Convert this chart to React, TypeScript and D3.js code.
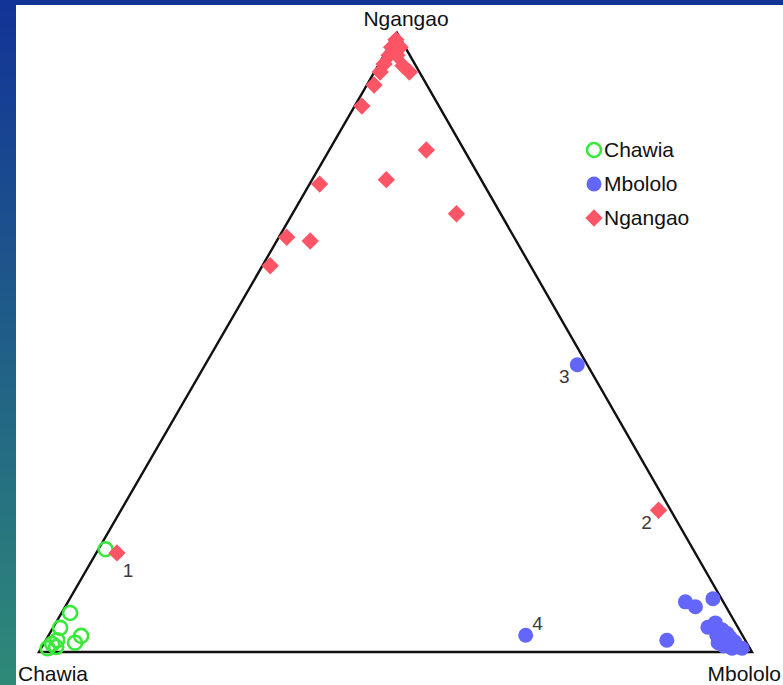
import React, { useEffect, useRef } from "react";
import * as d3 from "d3";

// ternary compositions [Chawia, Mbololo, Ngangao]
const vertexLabels = ["Chawia", "Mbololo", "Ngangao"];
const seriesNames = ["Chawia", "Mbololo", "Ngangao"];

const chawiaPts: number[][] = [
  [0.824, 0.01, 0.166],
  [0.925, 0.012, 0.063],
  [0.951, 0.01, 0.039],
  [0.928, 0.046, 0.026],
  [0.942, 0.043, 0.015],
  [0.965, 0.016, 0.019],
  [0.975, 0.012, 0.013],
  [0.985, 0.009, 0.006],
  [0.972, 0.02, 0.008],
];

const mbololoPts: number[][] = [
  [0.014, 0.522, 0.464],
  [0.304, 0.669, 0.027],
  [0.11, 0.871, 0.019],
  [0.053, 0.866, 0.081],
  [0.043, 0.884, 0.073],
  [0.012, 0.902, 0.086],
  [0.042, 0.918, 0.04],
  [0.028, 0.925, 0.047],
  [0.024, 0.94, 0.036],
  [0.036, 0.937, 0.027],
  [0.019, 0.958, 0.023],
  [0.027, 0.958, 0.015],
  [0.03, 0.951, 0.019],
  [0.016, 0.968, 0.016],
  [0.025, 0.969, 0.006],
  [0.017, 0.975, 0.008],
  [0.011, 0.983, 0.006],
  [0.04, 0.945, 0.015],
  [0.035, 0.955, 0.01],
  [0.02, 0.95, 0.03],
];

const ngangaoPts: number[][] = [
  [0.007, 0.004, 0.989],
  [0.019, 0.004, 0.977],
  [0.007, 0.016, 0.977],
  [0.029, 0.007, 0.964],
  [0.018, 0.018, 0.964],
  [0.043, 0.007, 0.95],
  [0.055, 0.008, 0.937],
  [0.018, 0.035, 0.947],
  [0.014, 0.049, 0.937],
  [0.074, 0.01, 0.916],
  [0.108, 0.01, 0.882],
  [0.053, 0.136, 0.811],
  [0.133, 0.104, 0.763],
  [0.23, 0.014, 0.756],
  [0.062, 0.23, 0.708],
  [0.319, 0.011, 0.67],
  [0.289, 0.047, 0.664],
  [0.365, 0.011, 0.624],
  [0.811, 0.029, 0.16],
  [0.017, 0.754, 0.229],
];

// numbered samples: [series, index, label]
const numbered: [number, number, string][] = [
  [2, 18, "1"],
  [2, 19, "2"],
  [1, 0, "3"],
  [1, 1, "4"],
];
const numberOffsets = [
  [11, 24],
  [-12, 19],
  [-13, 18],
  [12, -5],
];

const colors = ["#3ae83a", "#6466fb", "#fd5565"];

const App = () => {
  const chartRef = useRef<SVGSVGElement | null>(null);

  useEffect(() => {
    const svg = d3.select(chartRef.current);
    svg.selectAll("*").remove();

    const width = 783;
    const height = 685;
    const font = "'Liberation Sans', Arial, sans-serif";

    // background gradient + white panel
    const defs = svg.append("defs");
    const grad = defs
      .append("linearGradient")
      .attr("id", "bg")
      .attr("x1", 0)
      .attr("y1", 0)
      .attr("x2", 0)
      .attr("y2", 1);
    grad.append("stop").attr("offset", "0%").attr("stop-color", "#123397");
    grad.append("stop").attr("offset", "100%").attr("stop-color", "#2e8a78");
    svg.append("rect").attr("width", width).attr("height", height).attr("fill", "url(#bg)");
    svg
      .append("rect")
      .attr("x", 16)
      .attr("y", 5)
      .attr("width", width - 16)
      .attr("height", height - 5)
      .attr("fill", "#ffffff");

    // triangle geometry
    const left = 39;
    const right = 752;
    const apexX = 397;
    const base = 652;
    const top = 33;
    const yScale = d3.scaleLinear().domain([0, 1]).range([base, top]);
    const mScale = d3.scaleLinear().domain([0, 1]).range([0, right - left]);
    const nxScale = d3.scaleLinear().domain([0, 1]).range([left, apexX]);
    const project = (p: number[]) => {
      const s = p[0] + p[1] + p[2];
      const m = p[1] / s;
      const n = p[2] / s;
      return [nxScale(n) + mScale(m), yScale(n)];
    };

    const corners = [
      [1, 0, 0],
      [0, 1, 0],
      [0, 0, 1],
    ].map(project);

    svg
      .append("path")
      .attr("d", d3.line()(corners as [number, number][]) + "Z")
      .attr("fill", "none")
      .attr("stroke", "#111")
      .attr("stroke-width", 2.4)
      .attr("stroke-linejoin", "miter");

    // vertex labels
    const vlab = [
      { x: 18, y: 681, anchor: "start" },
      { x: 781, y: 681, anchor: "end" },
      { x: 406, y: 26, anchor: "middle" },
    ];
    vertexLabels.forEach((t, i) => {
      svg
        .append("text")
        .attr("x", vlab[i].x)
        .attr("y", vlab[i].y)
        .attr("text-anchor", vlab[i].anchor)
        .style("font-family", font)
        .style("font-size", "21px")
        .attr("fill", "#111")
        .text(t);
    });

    const diamond = d3.symbol().type(d3.symbolSquare).size(150);

    const drawMarker = (g: any, series: number, x: number, y: number) => {
      if (series === 0) {
        g.append("circle")
          .attr("cx", x)
          .attr("cy", y)
          .attr("r", 7)
          .attr("fill", "none")
          .attr("stroke", colors[0])
          .attr("stroke-width", 2.6);
      } else if (series === 1) {
        g.append("circle").attr("cx", x).attr("cy", y).attr("r", 7.5).attr("fill", colors[1]);
      } else {
        g.append("path")
          .attr("d", diamond()!)
          .attr("transform", `translate(${x},${y}) rotate(45)`)
          .attr("fill", colors[2]);
      }
    };

    const allSeries = [chawiaPts, mbololoPts, ngangaoPts];
    const pts = svg.append("g");
    allSeries.forEach((data, si) => {
      data.forEach((d) => {
        const [x, y] = project(d);
        drawMarker(pts, si, x, y);
      });
    });

    // numbered labels
    numbered.forEach(([si, idx, lab], i) => {
      const [x, y] = project(allSeries[si][idx]);
      svg
        .append("text")
        .attr("x", x + numberOffsets[i][0])
        .attr("y", y + numberOffsets[i][1])
        .attr("text-anchor", "middle")
        .style("font-family", font)
        .style("font-size", "19px")
        .attr("fill", "#3a3a3a")
        .text(lab);
    });

    // legend
    const legend = svg.append("g");
    seriesNames.forEach((name, i) => {
      const ly = 150 + i * 34;
      drawMarker(legend, i, 594, ly);
      legend
        .append("text")
        .attr("x", 604)
        .attr("y", ly + 7)
        .style("font-family", font)
        .style("font-size", "21px")
        .attr("fill", "#111")
        .text(name);
    });
  }, []);

  return (
    <svg
      ref={chartRef}
      width={783}
      height={685}
      style={{ position: "absolute", left: 0, top: 0 }}
    />
  );
};

export default App;
